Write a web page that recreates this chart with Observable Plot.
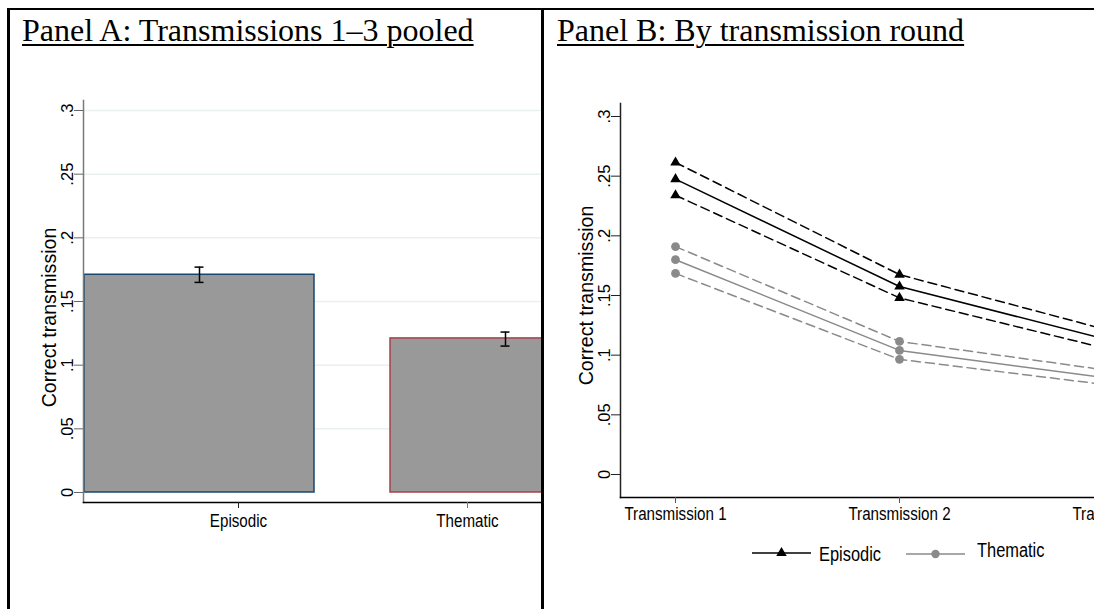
<!DOCTYPE html>
<html>
<head>
<meta charset="utf-8">
<script src="https://cdn.jsdelivr.net/npm/d3@7"></script>
<script src="https://cdn.jsdelivr.net/npm/@observablehq/plot@0.6"></script>
<style>
  html, body { margin: 0; padding: 0; background: #fff; }
  #page { position: relative; width: 1094px; height: 609px; overflow: hidden; background: #fff; }
  .clip { position: absolute; top: 0; height: 609px; overflow: hidden; }
  .title { position: absolute; top: 14px; font-family: 'Liberation Serif', 'Times New Roman', serif; font-size: 32px; line-height: 32px; color: #000; white-space: nowrap; text-decoration: underline; text-decoration-thickness: 2px; text-underline-offset: 3px; z-index: 5; }
  .rule { position: absolute; background: #000; z-index: 6; }
  .leg { position: absolute; z-index: 5; color: #000; white-space: nowrap; }
</style>
</head>
<body>
<div id="page">
  <div class="clip" id="clipA" style="left:0;width:541px;"></div>
  <div class="clip" id="clipB" style="left:543px;width:551px;"><div id="innerB" style="position:absolute;left:-543px;top:0;"></div></div>
  <div class="title" style="left:22px;">Panel A: Transmissions 1–3 pooled</div>
  <div class="title" style="left:557px;">Panel B: By transmission round</div>
  <div class="rule" style="left:7px;top:7.5px;width:1087px;height:2.5px;"></div>
  <div class="rule" style="left:7px;top:7.5px;width:2.5px;height:602px;"></div>
  <div class="rule" style="left:541px;top:7.5px;width:2.5px;height:602px;"></div>
  <div id="legend"></div>
</div>
<script>
// ---------- data ----------
const yTitle = "Correct transmission";
const yTicks = [0, 0.05, 0.1, 0.15, 0.2, 0.25, 0.3];

// Panel A: pooled means with 95% CI
const categoriesA = ["Episodic", "Thematic"];
const meanA  = [0.171, 0.121];
const lowerA = [0.165, 0.115];
const upperA = [0.177, 0.126];

// Panel B: by transmission round
const rounds = ["Transmission 1", "Transmission 2", "Transmission 3"];
const episodicMean  = [0.2475, 0.1575, 0.1095];
const episodicLower = [0.2340, 0.1480, 0.1020];
const episodicUpper = [0.2615, 0.1675, 0.1175];
const thematicMean  = [0.1800, 0.1040, 0.0790];
const thematicLower = [0.1685, 0.0965, 0.0735];
const thematicUpper = [0.1910, 0.1115, 0.0855];

// ---------- fonts ----------
const SANS = "'Liberation Sans', Arial, Helvetica, sans-serif";
const SQUEEZE = 0.82;           // horizontal condensing of horizontal labels
const fsX = 18.5, fsYTick = 16.5, fsYTitle = 19.6, fsLeg = 20;

const fmt = d => d === 0 ? "0" : String(d).replace(/^0/, "");

function condense(svg, selector) {
  svg.querySelectorAll(selector).forEach(t => {
    const tr = t.getAttribute("transform");
    if (tr && tr.includes("translate")) {
      t.setAttribute("transform", tr + ` scale(${SQUEEZE},1)`);
    } else {
      const x = +(t.getAttribute("x") || 0);
      t.setAttribute("transform", `translate(${x},0) scale(${SQUEEZE},1) translate(${-x},0)` + (tr ? " " + tr : ""));
    }
  });
}

// ---------- Panel A ----------
const barsA = categoriesA.map((c, i) => ({cat: c, mean: meanA[i], lo: lowerA[i], hi: upperA[i]}));
const capInset = 110.5;

const plotA = Plot.plot({
  width: 1094, height: 609,
  marginLeft: 83, marginTop: 100, marginBottom: 107, marginRight: 0,
  style: {fontFamily: SANS, fontSize: "16px", color: "#000", background: "transparent", maxWidth: "none"},
  x: {type: "band", domain: categoriesA, range: [83, 620], paddingInner: 0.25, paddingOuter: 0},
  y: {domain: [0, 0.3], range: [492, 110]},
  color: {domain: categoriesA, range: ["#1a476f", "#a8404a"]},
  marks: [
    Plot.gridY(yTicks.filter(d => d > 0), {stroke: "#e9f0f2", strokeOpacity: 1, strokeWidth: 1.5}),
    Plot.barY(barsA, {x: "cat", y: "mean", fill: "#999999", stroke: "cat", strokeWidth: 1.5}),
    Plot.ruleX(barsA, {x: "cat", y1: "lo", y2: "hi", stroke: "#000", strokeWidth: 1.5}),
    Plot.tickY(barsA, {x: "cat", y: "lo", insetLeft: capInset, insetRight: capInset, stroke: "#000", strokeWidth: 1.5}),
    Plot.tickY(barsA, {x: "cat", y: "hi", insetLeft: capInset, insetRight: capInset, stroke: "#000", strokeWidth: 1.5}),
    Plot.frame({anchor: "left", stroke: "#7a7a7a", strokeWidth: 1.5}),
    Plot.frame({anchor: "bottom", stroke: "#000", strokeWidth: 1.5}),
    Plot.axisY(yTicks, {tickSize: 9, tickPadding: 2, tickRotate: -90, tickFormat: fmt, stroke: "#666", label: null, fontSize: fsYTick}),
    Plot.axisX([categoriesA[0]], {dx: 39, tickSize: 6, tickPadding: 5, label: null, stroke: "#222", fontSize: fsX}),
    Plot.axisX([categoriesA[1]], {dx: -38, tickSize: 6, tickPadding: 5, label: null, stroke: "#777", fontSize: fsX}),
    Plot.text([yTitle], {frameAnchor: "left", dx: -28, dy: 16, rotate: -90, lineAnchor: "bottom", textAnchor: "middle", fontSize: fsYTitle, fill: "#000"})
  ]
});
condense(plotA, 'g[aria-label="x-axis tick label"] text');
document.getElementById("clipA").appendChild(plotA);

// ---------- Panel B ----------
function seriesRows(group, band, values) {
  return rounds.map((r, i) => ({round: r, value: values[i], group, band, series: group + "-" + band}));
}
const rowsB = [
  ...seriesRows("Episodic", "mean", episodicMean),
  ...seriesRows("Episodic", "lower", episodicLower),
  ...seriesRows("Episodic", "upper", episodicUpper),
  ...seriesRows("Thematic", "mean", thematicMean),
  ...seriesRows("Thematic", "lower", thematicLower),
  ...seriesRows("Thematic", "upper", thematicUpper)
];
const GRAY = "#8a8a8a";
const isE = d => d.group === "Episodic";
const isT = d => d.group === "Thematic";

const plotB = Plot.plot({
  width: 1094, height: 609,
  marginLeft: 620, marginTop: 103, marginBottom: 112, marginRight: 0,
  style: {fontFamily: SANS, fontSize: "16px", color: "#000", background: "transparent", maxWidth: "none"},
  x: {type: "point", domain: rounds, range: [675, 1123], padding: 0},
  y: {domain: [0, 0.3], range: [474, 116]},
  marks: [
    Plot.frame({anchor: "left", stroke: "#222", strokeWidth: 1.5}),
    Plot.frame({anchor: "bottom", stroke: "#000", strokeWidth: 1.5}),
    Plot.line(rowsB.filter(d => isT(d) && d.band !== "mean"), {x: "round", y: "value", z: "series", stroke: GRAY, strokeWidth: 1.5, strokeDasharray: "9,5"}),
    Plot.line(rowsB.filter(d => isT(d) && d.band === "mean"), {x: "round", y: "value", z: "series", stroke: GRAY, strokeWidth: 1.5}),
    Plot.line(rowsB.filter(d => isE(d) && d.band !== "mean"), {x: "round", y: "value", z: "series", stroke: "#000", strokeWidth: 1.5, strokeDasharray: "9,5"}),
    Plot.line(rowsB.filter(d => isE(d) && d.band === "mean"), {x: "round", y: "value", z: "series", stroke: "#000", strokeWidth: 1.5}),
    Plot.dot(rowsB.filter(isT), {x: "round", y: "value", r: 4.4, fill: GRAY, stroke: "none"}),
    Plot.dot(rowsB.filter(isE), {x: "round", y: "value", symbol: "triangle", r: 3.9, fill: "#000", stroke: "none"}),
    Plot.axisY(yTicks, {tickSize: 9, tickPadding: 2, tickRotate: -90, tickFormat: fmt, stroke: "#222", label: null, fontSize: fsYTick}),
    Plot.axisX(rounds, {tickSize: 6, tickPadding: 3, label: null, stroke: "#555", fontSize: fsX}),
    Plot.text([yTitle], {frameAnchor: "left", dx: -28, dy: -5, rotate: -90, lineAnchor: "bottom", textAnchor: "middle", fontSize: fsYTitle, fill: "#000"})
  ]
});
condense(plotB, 'g[aria-label="x-axis tick label"] text');
document.getElementById("innerB").appendChild(plotB);

// ---------- Legend (Panel B) ----------
const legendItems = [
  {label: "Episodic", color: "#000", symbol: "triangle", left: 752, cy: 553, textLeft: 819, baseline: 561},
  {label: "Thematic", color: GRAY, symbol: "circle", left: 906, cy: 554, textLeft: 977, baseline: 557}
];
const leg = document.getElementById("legend");
legendItems.forEach(it => {
  const w = 59;
  const sw = document.createElementNS("http://www.w3.org/2000/svg", "svg");
  sw.setAttribute("width", w); sw.setAttribute("height", 14);
  sw.setAttribute("class", "leg");
  sw.style.left = it.left + "px"; sw.style.top = (it.cy - 7) + "px";
  const sym = it.symbol === "triangle" ? d3.symbolTriangle : d3.symbolCircle;
  const size = it.symbol === "triangle" ? Math.PI * 3.9 * 3.9 : Math.PI * 4.2 * 4.2;
  sw.innerHTML = `<line x1="0" x2="${w}" y1="7" y2="7" stroke="${it.color}" stroke-width="1.5"/>` +
    `<path transform="translate(${w / 2},7)" d="${d3.symbol(sym, size)()}" fill="${it.color}"/>`;
  leg.appendChild(sw);
  const t = document.createElement("div");
  t.className = "leg";
  t.textContent = it.label;
  t.style.fontFamily = SANS;
  t.style.fontSize = fsLeg + "px";
  t.style.lineHeight = "1";
  t.style.left = it.textLeft + "px";
  t.style.transformOrigin = "left center";
  t.style.transform = `scaleX(${SQUEEZE})`;
  const fs = fsLeg;
  t.style.top = (it.baseline - (fs - (0.905 + 0.212) * fs) / 2 - 0.905 * fs) + "px";
  leg.appendChild(t);
});
</script>
</body>
</html>
